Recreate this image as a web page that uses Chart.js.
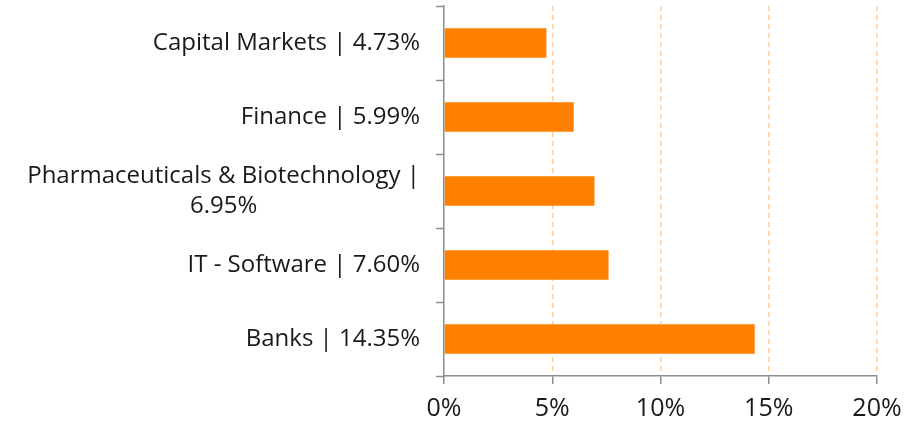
<!DOCTYPE html>
<html>
<head>
<meta charset="utf-8">
<script src="https://cdn.jsdelivr.net/npm/chart.js@4/dist/chart.umd.min.js"></script>
<style>
  html, body { margin: 0; padding: 0; background: #fff; }
  #wrap { width: 915px; height: 426px; }
</style>
</head>
<body>
<div id="wrap"><canvas id="c" width="915" height="426"></canvas></div>
<script>
const categories = ["Capital Markets", "Finance", "Pharmaceuticals & Biotechnology", "IT - Software", "Banks"];
const weights = [4.73, 5.99, 6.95, 7.60, 14.35];
const xTicks = [0, 5, 10, 15, 20];

const labels = categories.map((c, i) => {
  const s = c + " | " + weights[i].toFixed(2) + "%";
  return s.length > 28 ? [c + " |", weights[i].toFixed(2) + "%"] : s;
});

const FONT = "'Open Sans', 'Noto Sans', sans-serif";
const AXIS = "#8c8c8c";
const LABEL_SIZE = 24;
const LINE_H = 30;

// Draw y category labels: block right-aligned to the axis, lines centered within the block
const yLabelPlugin = {
  id: "yLabels",
  afterDraw(chart) {
    const ctx = chart.ctx;
    const y = chart.scales.y;
    const right = y.right - 8 - 16;
    ctx.save();
    ctx.font = LABEL_SIZE + "px " + FONT;
    ctx.fillStyle = "#1a1a1a";
    ctx.textAlign = "center";
    ctx.textBaseline = "middle";
    chart.data.labels.forEach((lab, i) => {
      const lines = Array.isArray(lab) ? lab : [lab];
      const w = Math.max(...lines.map(l => ctx.measureText(l).width));
      const cx = right - w / 2;
      const cy = y.getPixelForTick(i);
      const top = cy - (lines.length - 1) * LINE_H / 2;
      lines.forEach((l, k) => ctx.fillText(l, cx, top + k * LINE_H));
    });
    ctx.restore();
  }
};

new Chart(document.getElementById("c"), {
  type: "bar",
  data: {
    labels: labels,
    datasets: [{
      data: weights,
      backgroundColor: "#FF8000",
      borderWidth: 0,
      barPercentage: 0.4,
      categoryPercentage: 1.0
    }]
  },
  plugins: [yLabelPlugin],
  options: {
    indexAxis: "y",
    responsive: false,
    animation: false,
    layout: { padding: { top: 6, right: 38, left: 0, bottom: 0 } },
    plugins: { legend: { display: false }, tooltip: { enabled: false } },
    scales: {
      x: {
        min: 0, max: 20,
        afterBuildTicks: (s) => { s.ticks = xTicks.map(v => ({ value: v })); },
        afterFit: (s) => { s.height = 50; s.paddingLeft = 0; s.paddingRight = 0; },
        ticks: {
          callback: (v) => v + "%",
          color: "#1a1a1a",
          font: { family: FONT, size: 25 },
          padding: 10
        },
        grid: {
          color: (ctx) => ctx.tick && ctx.tick.value === 0 ? "rgba(0,0,0,0)" : "#FCCFA4",
          lineWidth: 1.5,
          tickColor: AXIS,
          tickLength: 8,
          tickWidth: 1.5
        },
        border: { color: AXIS, width: 1.5, dash: [5, 4] }
      },
      y: {
        afterFit: (s) => { s.width = 444; s.paddingTop = 0; s.paddingBottom = 0; },
        ticks: {
          display: false,
          font: { family: FONT, size: LABEL_SIZE }
        },
        grid: {
          offset: true,
          drawOnChartArea: false,
          tickColor: AXIS,
          tickLength: 8,
          tickWidth: 1.5
        },
        border: { color: AXIS, width: 1.5 }
      }
    }
  }
});
</script>
</body>
</html>
